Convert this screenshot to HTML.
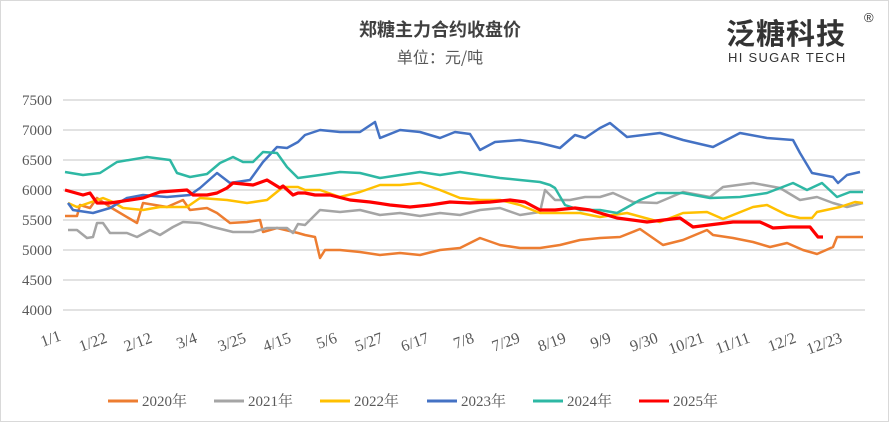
<!DOCTYPE html>
<html><head><meta charset="utf-8"><style>
body{margin:0;background:#fff}
svg{display:block}
.serif{font-family:"Liberation Serif","Noto Serif CJK SC",serif}
</style></head><body>
<svg width="889" height="422" viewBox="0 0 889 422" xmlns="http://www.w3.org/2000/svg">
<rect x="0.5" y="0.5" width="888" height="421" fill="#fff" stroke="#d9d9d9"/>
<text x="440" y="36" text-anchor="middle" style="font-family:'Noto Sans CJK SC',sans-serif" font-size="18" font-weight="bold" fill="#404040">郑糖主力合约收盘价</text>
<text x="440" y="63" text-anchor="middle" style="font-family:'Noto Sans CJK SC',sans-serif" font-size="16" fill="#595959">单位：元/吨</text>
<text x="726" y="44" style="font-family:'Noto Sans CJK SC',sans-serif" font-size="29" font-weight="bold" fill="#333" letter-spacing="1">泛糖科技</text>
<text x="728" y="62" style="font-family:'Liberation Sans',sans-serif" font-size="13" fill="#333" letter-spacing="1.3">HI SUGAR TECH</text>
<text x="864" y="22" style="font-family:'Liberation Sans',sans-serif" font-size="13" fill="#333">®</text>
<g stroke="#d9d9d9" stroke-width="1.5">
<line x1="63" x2="865" y1="100" y2="100"/><line x1="63" x2="865" y1="130" y2="130"/>
<line x1="63" x2="865" y1="160" y2="160"/><line x1="63" x2="865" y1="190" y2="190"/>
<line x1="63" x2="865" y1="220" y2="220"/><line x1="63" x2="865" y1="250" y2="250"/>
<line x1="63" x2="865" y1="280" y2="280"/><line x1="63" x2="865" y1="310" y2="310"/>
</g>
<g class="serif" font-size="15" fill="#595959" text-anchor="end">
<text x="52" y="105">7500</text><text x="52" y="135">7000</text><text x="52" y="165">6500</text>
<text x="52" y="195">6000</text><text x="52" y="225">5500</text><text x="52" y="255">5000</text>
<text x="52" y="285">4500</text><text x="52" y="315">4000</text>
</g>
<g class="serif" font-size="16" fill="#595959" text-anchor="end">
<text transform="translate(62,340) rotate(-20)">1/1</text>
<text transform="translate(108,342) rotate(-20)">1/22</text>
<text transform="translate(153,342) rotate(-20)">2/12</text>
<text transform="translate(198,342) rotate(-20)">3/4</text>
<text transform="translate(247,342) rotate(-20)">3/25</text>
<text transform="translate(292,342) rotate(-20)">4/15</text>
<text transform="translate(338,342) rotate(-20)">5/6</text>
<text transform="translate(384,342) rotate(-20)">5/27</text>
<text transform="translate(430,342) rotate(-20)">6/17</text>
<text transform="translate(475,342) rotate(-20)">7/8</text>
<text transform="translate(521,342) rotate(-20)">7/29</text>
<text transform="translate(567,342) rotate(-20)">8/19</text>
<text transform="translate(612,342) rotate(-20)">9/9</text>
<text transform="translate(659,342) rotate(-20)">9/30</text>
<text transform="translate(705,342) rotate(-20)">10/21</text>
<text transform="translate(751,342) rotate(-20)">11/11</text>
<text transform="translate(797,342) rotate(-20)">12/2</text>
<text transform="translate(843,342) rotate(-20)">12/23</text>
</g>
<g fill="none" stroke-width="2.5" stroke-linejoin="round">
<polyline stroke="#ed7d31" points="65,216 77,216 80,205 90,208 97,198 110,207 137,223 143,203 167,207 183,200 190,210 207,208 217,213 230,223 247,222 260,220 263,232 277,228 298,233 305,235 315,237 320,258 325,250 340,250 360,252 380,255 400,253 420,255 440,250 460,248 480,238 500,245 520,248 540,248 560,245 580,240 600,238 620,237 640,229 663,245 683,240 707,230 713,235 733,238 753,242 770,247 787,243 803,250 817,254 833,247 837,237 853,237 863,237"/>
<polyline stroke="#a5a5a5" points="68,230 77,230 87,238 93,237 97,223 103,223 110,233 127,233 137,237 150,230 160,235 173,227 183,222 200,223 213,227 233,232 253,232 267,228 287,228 293,233 298,224 305,225 320,210 340,212 360,210 380,215 400,213 420,216 440,213 460,215 480,210 500,208 520,215 540,212 545,190 555,200 570,200 585,197 600,197 613,193 633,202 657,203 683,192 710,197 723,187 753,183 780,188 800,200 817,197 833,203 847,207 863,203"/>
<polyline stroke="#ffc000" points="68,203 77,207 103,198 113,202 123,208 143,210 160,207 187,207 200,198 227,200 247,203 267,200 283,187 298,187 305,190 320,190 340,197 360,192 380,185 400,185 420,183 440,190 460,198 480,200 500,200 520,205 540,213 560,213 580,213 600,217 627,213 660,222 683,213 707,212 723,219 753,207 767,205 787,215 800,218 812,218 817,212 840,207 855,202 863,203"/>
<polyline stroke="#4472c4" points="68,203 73,210 93,213 110,208 127,198 143,195 167,197 190,195 200,188 217,173 230,183 250,180 263,162 277,147 287,148 298,142 305,135 320,130 340,132 360,132 375,122 380,138 400,130 420,132 440,138 455,132 470,134 480,150 495,142 520,140 540,143 560,148 575,135 585,138 600,128 610,123 627,137 660,133 683,140 713,147 740,133 767,138 793,140 800,153 812,173 833,177 838,183 847,175 860,172"/>
<polyline stroke="#2eb8a4" points="65,172 83,175 100,173 117,162 147,157 170,160 177,173 190,177 207,174 220,163 233,157 243,162 253,162 263,152 277,153 287,167 298,178 320,175 340,172 360,173 380,178 400,175 420,172 440,175 460,172 480,175 500,178 520,180 540,182 550,185 555,188 565,205 580,210 600,210 617,213 640,200 657,193 683,193 710,198 740,197 767,193 793,183 807,190 822,183 837,197 850,192 863,192"/>
<polyline stroke="#ff0000" stroke-width="3.2" points="65,190 83,195 90,193 97,203 110,203 117,202 143,198 160,192 187,190 193,195 207,195 217,193 227,188 233,183 253,185 267,180 280,188 283,186 293,195 298,193 305,193 315,195 330,195 350,200 370,202 390,205 410,207 430,205 450,202 470,203 490,202 510,200 525,202 540,210 555,210 575,208 590,210 600,213 617,218 647,222 680,218 693,227 733,222 760,222 773,228 790,227 810,227 818,237 823,237"/>
</g>
<g class="serif" font-size="15" fill="#595959" stroke-width="3">
<line x1="108" x2="138" y1="401" y2="401" stroke="#ed7d31"/><text x="142" y="406">2020年</text>
<line x1="214" x2="244" y1="401" y2="401" stroke="#a5a5a5"/><text x="248" y="406">2021年</text>
<line x1="320" x2="350" y1="401" y2="401" stroke="#ffc000"/><text x="354" y="406">2022年</text>
<line x1="427" x2="457" y1="401" y2="401" stroke="#4472c4"/><text x="461" y="406">2023年</text>
<line x1="533" x2="563" y1="401" y2="401" stroke="#2eb8a4"/><text x="567" y="406">2024年</text>
<line x1="639" x2="669" y1="401" y2="401" stroke="#ff0000"/><text x="673" y="406">2025年</text>
</g>
</svg>
</body></html>
